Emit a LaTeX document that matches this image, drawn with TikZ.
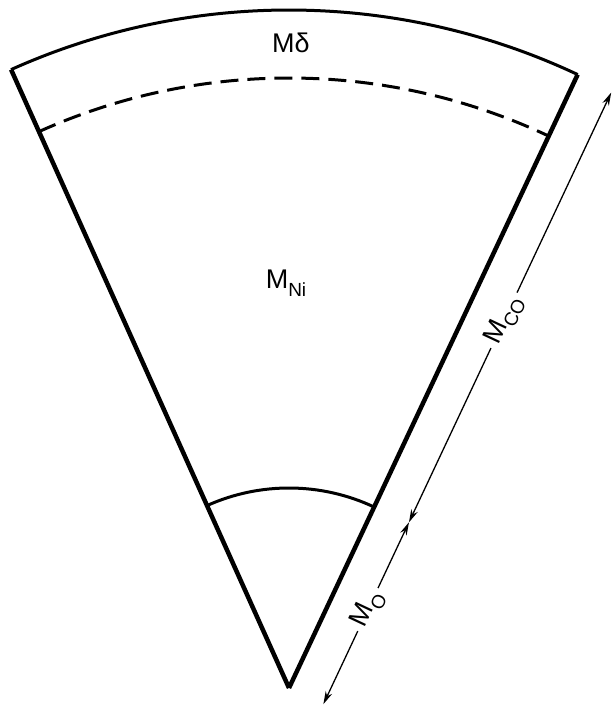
\documentclass[tikz,border=0pt]{standalone}
\usepackage{fontspec}
\setmainfont{Liberation Sans}
\usetikzlibrary{calc,arrows.meta}
\newcommand{\lowsub}[1]{\raisebox{-0.28em}{\fontsize{19}{19}\selectfont #1}}
\tikzset{
  edge/.style={line width=4.5pt, line join=miter},
  arcline/.style={line width=3pt},
  dashline/.style={line width=3pt, dash pattern=on 18pt off 9pt},
  dimline/.style={line width=1.3pt, {Stealth[length=13pt,width=7pt]}-{Stealth[length=13pt,width=7pt]}},
  lab/.style={font=\fontsize{27}{27}\selectfont, inner sep=1pt},
  dimlab/.style={lab, fill=white, sloped, inner xsep=5pt}
}
\begin{document}
\begin{tikzpicture}[x=1pt,y=1pt]
\useasboundingbox (0,0) rectangle (613,711);
\coordinate (apex) at (289,23);
\coordinate (L) at ($(apex)+(114.2:678)$);
\coordinate (R) at ($(apex)+(64.8:678)$);
\coordinate (dL) at ($(apex)+(114.2:610)$);
\coordinate (iL) at ($(apex)+(114.2:200)$);
% sector outline
\draw[edge] (apex) -- (L);
\draw[edge] (apex) -- (R);
\draw[arcline] (L) arc[start angle=114.2, end angle=64.8, radius=678pt];
\draw[dashline] (dL) arc[start angle=114.2, end angle=64.8, radius=610pt];
\draw[arcline] (iL) arc[start angle=114.2, end angle=64.8, radius=200pt];
% labels
\node[lab] (md) at (291,668) {Mδ};
\node[lab] (mni) at (286,428) {M\lowsub{Ni}};
% dimension line
\coordinate (D0) at ($(apex)+(-25.2:38)$);
\coordinate (D1) at ($(D0)+(64.8:201)$);
\coordinate (D2) at ($(D0)+(64.8:676)$);
\draw[dimline] (D0) -- node[dimlab, pos=0.52] (mo) {M\lowsub{O}} (D1);
\draw[dimline] (D1) -- node[dimlab, pos=0.47] (mco) {M\lowsub{CO}} (D2);
\end{tikzpicture}
\end{document}
